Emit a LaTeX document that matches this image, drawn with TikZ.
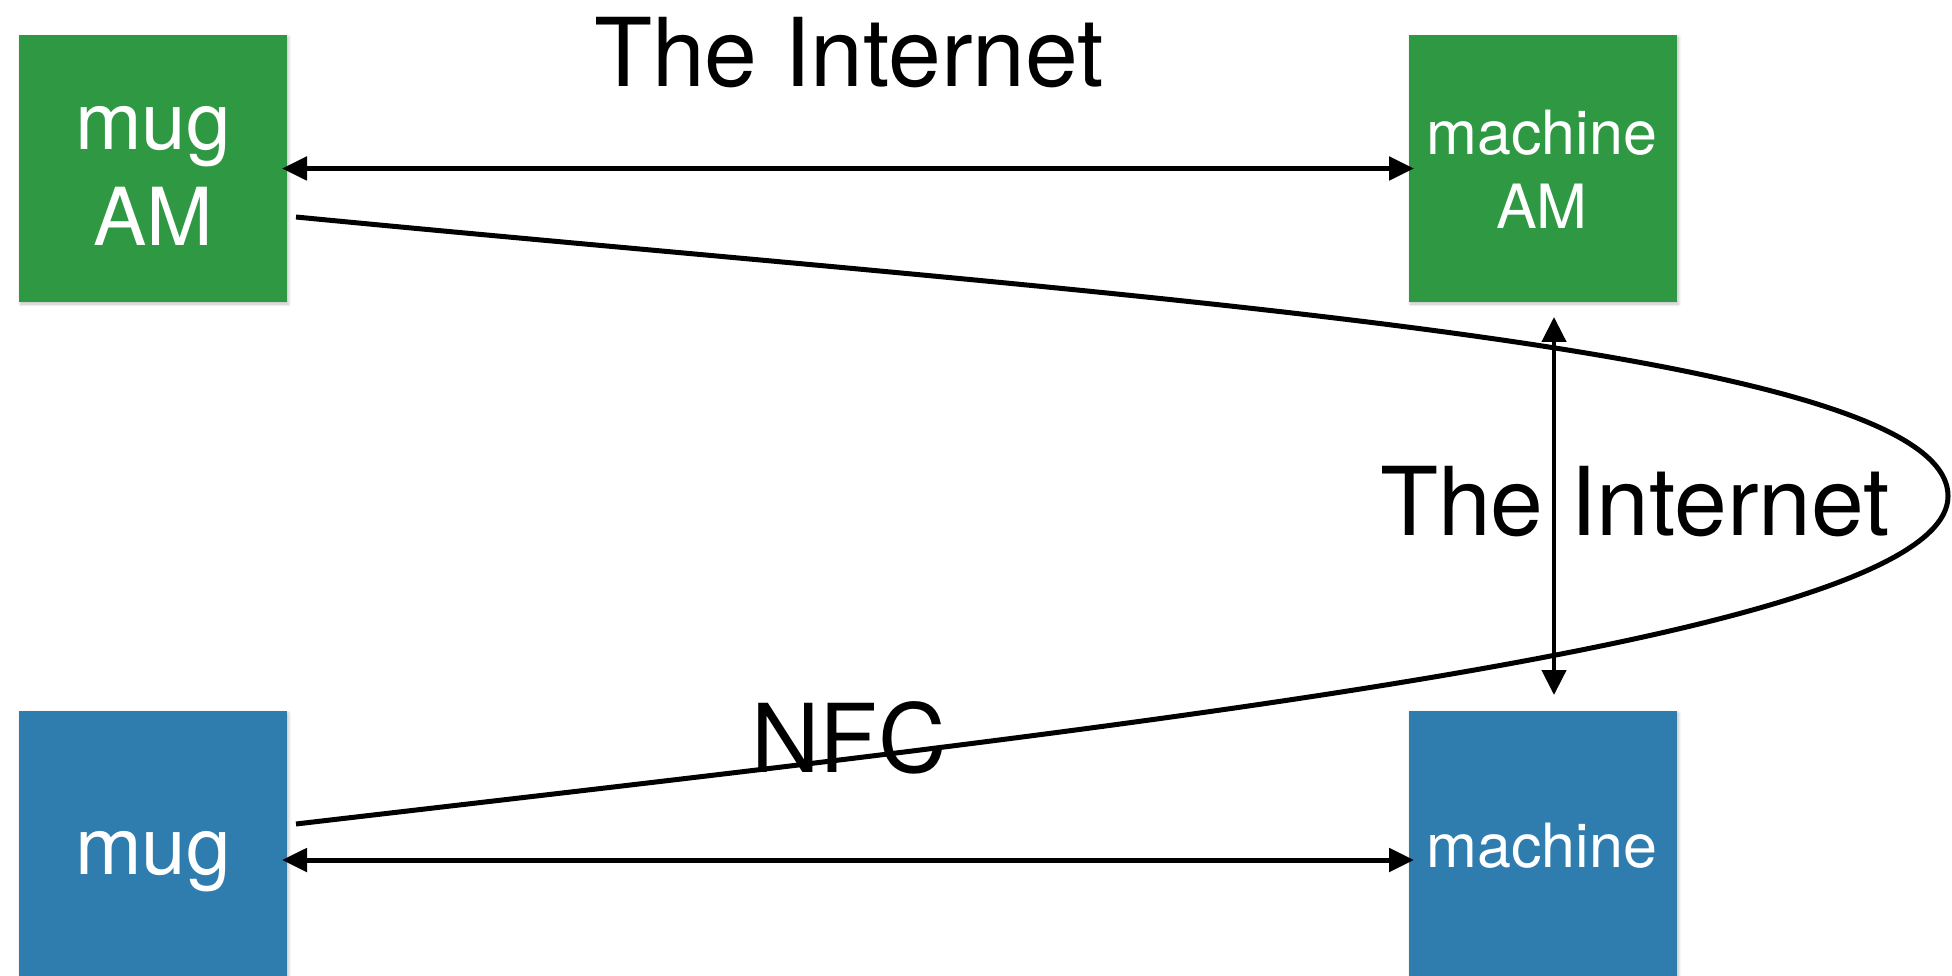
\documentclass[tikz,border=0pt]{standalone}
\usepackage{fontspec}
\setmainfont{TeX Gyre Heros}
\usetikzlibrary{arrows.meta,shadows.blur}
\definecolor{boxgreen}{RGB}{47,152,66}
\definecolor{boxblue}{RGB}{47,125,175}
\begin{document}
\begin{tikzpicture}[x=1pt,y=-1pt,
  box/.style={minimum width=268pt, minimum height=267pt, inner sep=0pt, outer sep=0pt,
    anchor=north west, draw=none,
    blur shadow={shadow xshift=1.5pt, shadow yshift=-2pt, shadow blur steps=6, shadow blur radius=3pt, shadow opacity=25}},
  bigtxt/.style={text=white, font=\fontsize{80}{80}\selectfont, anchor=base, inner sep=0pt},
  smalltxt/.style={text=white, font=\fontsize{61}{61}\selectfont, anchor=base, inner sep=0pt},
  lbl/.style={text=black, font=\fontsize{95}{95}\selectfont, anchor=base, inner sep=0pt},
  dbl/.style={{Triangle[length=25pt,width=23pt]}-{Triangle[length=25pt,width=23pt]}, line width=5pt},
  vdbl/.style={{Triangle[length=25pt,width=24pt]}-{Triangle[length=25pt,width=24pt]}, line width=4.5pt},
  curveline/.style={line width=5pt}]
\useasboundingbox (0,0) rectangle (1952,976);
% boxes
\node[box, fill=boxgreen] (mugam) at (19,35) {};
\node[box, fill=boxgreen] (machineam) at (1409,35) {};
\node[box, fill=boxblue, minimum height=285pt] (mug) at (19,711) {};
\node[box, fill=boxblue, minimum height=285pt] (machine) at (1409,711) {};
% box texts
\node[bigtxt] (t1) at (153,150) {mug};
\node[bigtxt] (t2) at (153,246) {AM};
\node[smalltxt] (t3) at (1542,155) {machine};
\node[smalltxt] (t4) at (1542,229) {AM};
\node[bigtxt] (t5) at (153,874) {mug};
\node[smalltxt] (t6) at (1542,867) {machine};
% labels
\node[lbl] (l1) at (849,87) {The Internet};
\node[lbl] (l2) at (1635,535) {The Internet};
\node[lbl] (l3) at (849,772) {NFC};
% arrows
\coordinate (by) at (0,860);
\draw[dbl, shorten <=-5pt, shorten >=-5pt] (mugam.east) -- (machineam.west);
\draw[dbl] ([xshift=-5pt]mug.east |- by) -- ([xshift=5pt]machine.west |- by);
\draw[vdbl, shorten <=15pt, shorten >=16pt] ([xshift=11pt]machineam.south) -- ([xshift=11pt]machine.north);
% curve
\coordinate (cs) at (296,217);
\coordinate (cr) at (1948,496);
\coordinate (ce) at (296,824);
\draw[curveline] (cs) .. controls (1100,295) and (1948,345) .. (cr)
  .. controls (1948,640) and (1100,730) .. (ce);
\end{tikzpicture}
\end{document}
